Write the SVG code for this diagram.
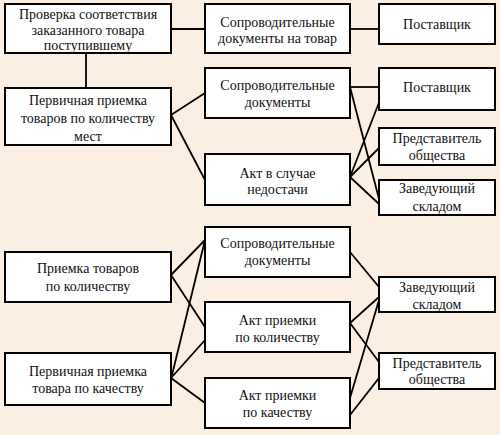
<svg xmlns="http://www.w3.org/2000/svg" width="500" height="435" viewBox="0 0 500 435">
<style>
.b{fill:#ffffff;stroke:#000;stroke-width:2}
.t{font-size:14px;fill:#111;text-anchor:middle}
.c line{stroke:#000;stroke-width:1.8}
</style>
<rect width="500" height="435" fill="#fbeee3"/>
<g class="c" id="connectors">
<line x1="86" y1="53" x2="86" y2="88"/>
<line x1="171" y1="29" x2="205" y2="29"/>
<line x1="350" y1="29" x2="379" y2="29"/>
<line x1="171" y1="115" x2="205" y2="93"/>
<line x1="171" y1="115" x2="205" y2="180"/>
<line x1="350" y1="87" x2="379" y2="87"/>
<line x1="350" y1="87" x2="379" y2="199"/>
<line x1="350" y1="177" x2="380" y2="100"/>
<line x1="350" y1="177" x2="379" y2="148"/>
<line x1="350" y1="177" x2="379" y2="204"/>
<line x1="171" y1="275" x2="205" y2="240"/>
<line x1="171" y1="275" x2="205" y2="327"/>
<line x1="172" y1="375" x2="205" y2="240"/>
<line x1="171" y1="378" x2="205" y2="340"/>
<line x1="171" y1="378" x2="205" y2="403"/>
<line x1="350" y1="252" x2="379" y2="287"/>
<line x1="350" y1="323" x2="379" y2="297"/>
<line x1="350" y1="323" x2="379" y2="362"/>
<line x1="350" y1="398" x2="379" y2="300"/>
<line x1="350" y1="415" x2="379" y2="378"/>
</g>
<g font-family="Liberation Serif, DejaVu Serif, serif">
<g id="n1"><rect class="b" x="5" y="4" width="166" height="49"/><text class="t" x="88" y="19">Проверка соответствия</text><text class="t" x="88" y="34.5">заказанного товара</text><text class="t" x="88" y="50">поступившему</text></g>
<g id="n2"><rect class="b" x="5" y="88" width="166" height="57"/><text class="t" x="88" y="105">Первичная приемка</text><text class="t" x="88" y="123">товаров по количеству</text><text class="t" x="88" y="141">мест</text></g>
<g id="n3"><rect class="b" x="205" y="4" width="145" height="49"/><text class="t" x="277.5" y="27">Сопроводительные</text><text class="t" x="277.5" y="43">документы на товар</text></g>
<g id="n4"><rect class="b" x="379" y="4" width="116" height="40"/><text class="t" x="437" y="29">Поставщик</text></g>
<g id="n5"><rect class="b" x="205" y="68" width="145" height="50"/><text class="t" x="277.5" y="90">Сопроводительные</text><text class="t" x="277.5" y="107">документы</text></g>
<g id="n6"><rect class="b" x="205" y="154" width="145" height="51"/><text class="t" x="277.5" y="178">Акт в случае</text><text class="t" x="277.5" y="194">недостачи</text></g>
<g id="n7"><rect class="b" x="379" y="68" width="116" height="42"/><text class="t" x="437" y="92">Поставщик</text></g>
<g id="n8"><rect class="b" x="379" y="128" width="116" height="37"/><text class="t" x="437" y="143">Представитель</text><text class="t" x="437" y="160">общества</text></g>
<g id="n9"><rect class="b" x="379" y="180" width="116" height="35"/><text class="t" x="437" y="193">Заведующий</text><text class="t" x="437" y="211">складом</text></g>
<g id="n10"><rect class="b" x="5" y="252" width="166" height="50"/><text class="t" x="88" y="273">Приемка товаров</text><text class="t" x="88" y="291">по количеству</text></g>
<g id="n11"><rect class="b" x="5" y="353" width="166" height="52"/><text class="t" x="88" y="376">Первичная приемка</text><text class="t" x="88" y="393">товара по качеству</text></g>
<g id="n12"><rect class="b" x="205" y="227" width="145" height="50"/><text class="t" x="277.5" y="248">Сопроводительные</text><text class="t" x="277.5" y="265">документы</text></g>
<g id="n13"><rect class="b" x="205" y="302" width="145" height="50"/><text class="t" x="277.5" y="325">Акт приемки</text><text class="t" x="277.5" y="342">по количеству</text></g>
<g id="n14"><rect class="b" x="205" y="378" width="145" height="50"/><text class="t" x="277.5" y="400">Акт приемки</text><text class="t" x="277.5" y="417">по качеству</text></g>
<g id="n15"><rect class="b" x="379" y="277" width="116" height="35"/><text class="t" x="437" y="292">Заведующий</text><text class="t" x="437" y="309">складом</text></g>
<g id="n16"><rect class="b" x="379" y="353" width="116" height="36"/><text class="t" x="437" y="368">Представитель</text><text class="t" x="437" y="384">общества</text></g>
</g>
</svg>
